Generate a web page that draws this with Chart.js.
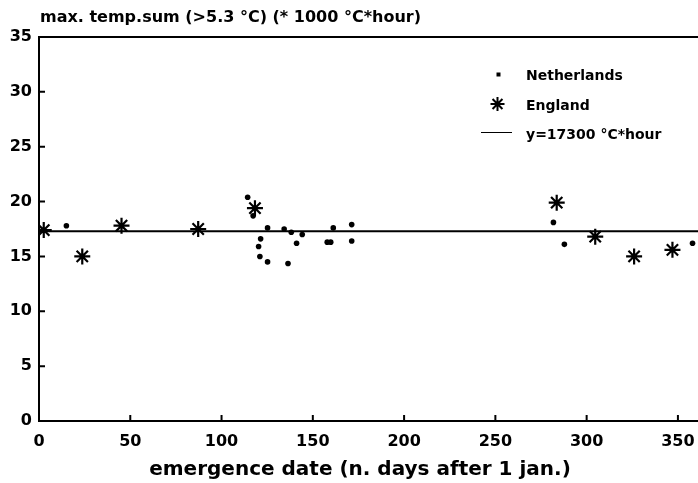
<!DOCTYPE html>
<html>
<head>
<meta charset="utf-8">
<script src="https://cdn.jsdelivr.net/npm/chart.js@4/dist/chart.umd.min.js"></script>
<style>
  html, body { margin: 0; padding: 0; background: #fff; }
  #wrap { width: 698px; height: 483px; position: relative; }
</style>
</head>
<body>
<div id="wrap"><canvas id="chart"></canvas></div>
<script>
/* values: x = day of year, y = temp.sum (* 1000 °C*hour) */
const nlDays = [15, 114.3, 117.3, 121.4, 120.3, 121, 125.2, 125.2, 134.3, 138.2, 136.4, 141.1, 144.2, 157.9, 159.8, 161.2, 171.3, 171.3, 281.8, 287.8, 358];
const nlSums = [17.8, 20.4, 18.7, 16.6, 15.9, 15.0, 14.5, 17.6, 17.5, 17.2, 14.35, 16.2, 17.0, 16.3, 16.3, 17.6, 17.9, 16.4, 18.1, 16.1, 16.2];

const enDays = [2.6, 23.7, 45.2, 87.2, 118.3, 283.6, 304.7, 326, 347];
const enSums = [17.4, 15.0, 17.8, 17.5, 19.4, 19.9, 16.8, 15.0, 15.6];

const refDays = [0, 361];
const refSum = 17.3;

const xTicks = [0, 50, 100, 150, 200, 250, 300, 350];
const yTicks = [0, 5, 10, 15, 20, 25, 30, 35];

const yTitle = 'max. temp.sum (>5.3 °C) (* 1000 °C*hour)';
const xTitle = 'emergence date (n. days after 1 jan.)';
const legendLabels = ['Netherlands', 'England', 'y=17300 °C*hour'];

const toPoints = (xs, ys) => xs.map((x, i) => ({ x: x, y: ys[i] }));

// inward ticks, frame top line, titles and legend
const decor = {
  id: 'decor',
  afterDraw(chart) {
    const c = chart.ctx;
    const a = chart.chartArea;
    const xs = chart.scales.x;
    const ys = chart.scales.y;
    c.save();
    c.strokeStyle = '#000';
    c.lineWidth = 2;
    c.beginPath();
    c.moveTo(a.left, a.top);
    c.lineTo(a.right, a.top);
    xTicks.forEach(v => {
      const px = xs.getPixelForValue(v);
      c.moveTo(px, a.bottom);
      c.lineTo(px, a.bottom - 6);
    });
    yTicks.forEach(v => {
      const py = ys.getPixelForValue(v);
      c.moveTo(a.left, py);
      c.lineTo(a.left + 6, py);
    });
    c.stroke();

    c.fillStyle = '#000';
    c.textBaseline = 'alphabetic';
    c.textAlign = 'left';
    c.font = 'bold 16px "DejaVu Sans"';
    c.fillText(yTitle, 40, 22);

    c.textAlign = 'center';
    c.font = 'bold 20px "DejaVu Sans"';
    c.fillText(xTitle, 360, 475);

    // legend
    c.textAlign = 'left';
    c.textBaseline = 'middle';
    c.font = 'bold 14px "DejaVu Sans"';
    c.fillRect(496.5, 72.5, 4, 4);
    c.fillText(legendLabels[0], 526, 76);
    Chart.helpers.drawPoint(c, { pointStyle: 'star', radius: 7, borderWidth: 2 }, 497.5, 104);
    c.fillText(legendLabels[1], 526, 106);
    c.lineWidth = 1;
    c.beginPath();
    c.moveTo(481, 132.5);
    c.lineTo(512, 132.5);
    c.stroke();
    c.fillText(legendLabels[2], 526, 135);
    c.restore();
  }
};

document.addEventListener('DOMContentLoaded', () => {
  new Chart(document.getElementById('chart'), {
    type: 'scatter',
    data: {
      datasets: [
        {
          label: legendLabels[0],
          data: toPoints(nlDays, nlSums),
          pointStyle: 'circle',
          pointRadius: 2.8,
          backgroundColor: '#000',
          borderColor: '#000',
          borderWidth: 0
        },
        {
          label: legendLabels[1],
          data: toPoints(enDays, enSums),
          pointStyle: 'star',
          pointRadius: 8,
          borderColor: '#000',
          borderWidth: 2.2
        },
        {
          label: legendLabels[2],
          type: 'line',
          data: refDays.map(d => ({ x: d, y: refSum })),
          borderColor: '#000',
          borderWidth: 2,
          pointRadius: 0
        }
      ]
    },
    options: {
      responsive: true,
      maintainAspectRatio: false,
      animation: false,
      layout: { autoPadding: false, padding: { top: 37, right: 0, left: 0, bottom: 0 } },
      plugins: {
        legend: { display: false },
        tooltip: { enabled: false }
      },
      scales: {
        x: {
          type: 'linear',
          min: 0,
          max: 361,
          afterBuildTicks: s => { s.ticks = xTicks.map(v => ({ value: v })); },
          afterFit: s => { s.height = 62; s.paddingLeft = 0; s.paddingRight = 0; },
          grid: { display: false, drawTicks: false },
          border: { color: '#000', width: 2 },
          ticks: { color: '#000', padding: 11, font: { family: 'DejaVu Sans', size: 16, weight: 'bold' } }
        },
        y: {
          min: 0,
          max: 35,
          afterBuildTicks: s => { s.ticks = yTicks.map(v => ({ value: v })); },
          afterFit: s => { s.width = 39; s.paddingTop = 0; s.paddingBottom = 0; },
          grid: { display: false, drawTicks: false },
          border: { color: '#000', width: 2 },
          ticks: { color: '#000', padding: 7, font: { family: 'DejaVu Sans', size: 16, weight: 'bold' } }
        }
      }
    },
    plugins: [decor]
  });
});
</script>
</body>
</html>
